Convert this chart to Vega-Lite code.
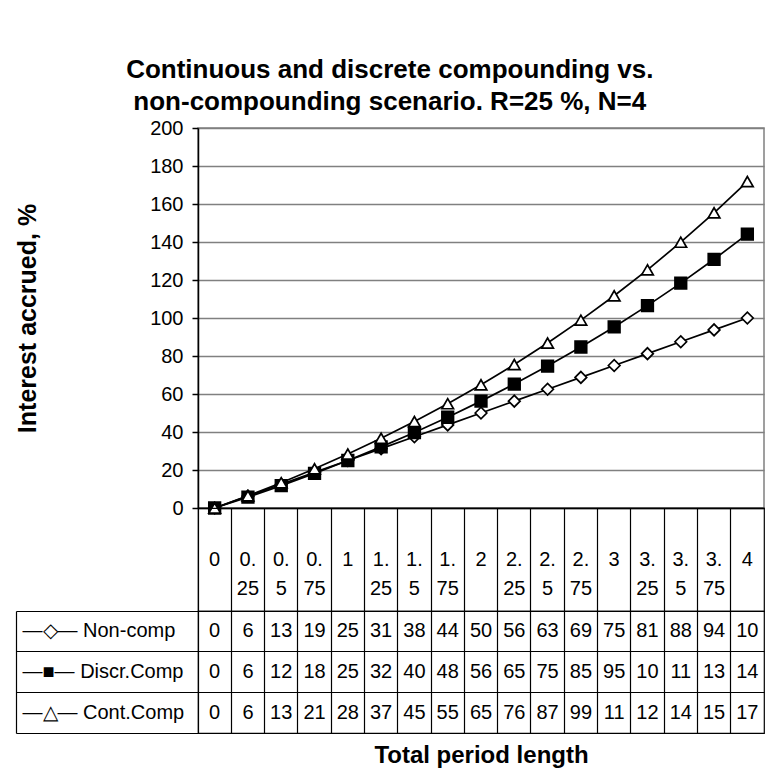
{
  "$schema": "https://vega.github.io/schema/vega-lite/v6.json",
  "background": "white",
  "padding": {"left": 14, "top": 57, "right": 10, "bottom": 6},
  "config": {
    "font": "Liberation Sans",
    "axis": {"labelFont": "Liberation Sans", "titleFont": "Liberation Sans", "labelColor": "black", "titleColor": "black"}
  },
  "title": {
    "text": ["Continuous and discrete compounding vs.", "non-compounding scenario. R=25 %, N=4"],
    "font": "Liberation Sans",
    "fontSize": 26,
    "fontWeight": "bold",
    "color": "black",
    "anchor": "middle",
    "frame": "bounds",
    "lineHeight": 32,
    "offset": 2
  },
  "bounds": "flush",
  "spacing": 0,
  "datasets": {
    "series": [
      {"t": "0", "series": "Non-comp", "value": 0},
      {"t": "0.25", "series": "Non-comp", "value": 6.25},
      {"t": "0.5", "series": "Non-comp", "value": 12.5},
      {"t": "0.75", "series": "Non-comp", "value": 18.75},
      {"t": "1", "series": "Non-comp", "value": 25},
      {"t": "1.25", "series": "Non-comp", "value": 31.25},
      {"t": "1.5", "series": "Non-comp", "value": 37.5},
      {"t": "1.75", "series": "Non-comp", "value": 43.75},
      {"t": "2", "series": "Non-comp", "value": 50},
      {"t": "2.25", "series": "Non-comp", "value": 56.25},
      {"t": "2.5", "series": "Non-comp", "value": 62.5},
      {"t": "2.75", "series": "Non-comp", "value": 68.75},
      {"t": "3", "series": "Non-comp", "value": 75},
      {"t": "3.25", "series": "Non-comp", "value": 81.25},
      {"t": "3.5", "series": "Non-comp", "value": 87.5},
      {"t": "3.75", "series": "Non-comp", "value": 93.75},
      {"t": "4", "series": "Non-comp", "value": 100},
      {"t": "0", "series": "Discr.Comp", "value": 0},
      {"t": "0.25", "series": "Discr.Comp", "value": 5.74},
      {"t": "0.5", "series": "Discr.Comp", "value": 11.8},
      {"t": "0.75", "series": "Discr.Comp", "value": 18.22},
      {"t": "1", "series": "Discr.Comp", "value": 25},
      {"t": "1.25", "series": "Discr.Comp", "value": 32.17},
      {"t": "1.5", "series": "Discr.Comp", "value": 39.75},
      {"t": "1.75", "series": "Discr.Comp", "value": 47.77},
      {"t": "2", "series": "Discr.Comp", "value": 56.25},
      {"t": "2.25", "series": "Discr.Comp", "value": 65.21},
      {"t": "2.5", "series": "Discr.Comp", "value": 74.69},
      {"t": "2.75", "series": "Discr.Comp", "value": 84.72},
      {"t": "3", "series": "Discr.Comp", "value": 95.31},
      {"t": "3.25", "series": "Discr.Comp", "value": 106.52},
      {"t": "3.5", "series": "Discr.Comp", "value": 118.37},
      {"t": "3.75", "series": "Discr.Comp", "value": 130.89},
      {"t": "4", "series": "Discr.Comp", "value": 144.14},
      {"t": "0", "series": "Cont.Comp", "value": 0},
      {"t": "0.25", "series": "Cont.Comp", "value": 6.45},
      {"t": "0.5", "series": "Cont.Comp", "value": 13.31},
      {"t": "0.75", "series": "Cont.Comp", "value": 20.62},
      {"t": "1", "series": "Cont.Comp", "value": 28.4},
      {"t": "1.25", "series": "Cont.Comp", "value": 36.68},
      {"t": "1.5", "series": "Cont.Comp", "value": 45.49},
      {"t": "1.75", "series": "Cont.Comp", "value": 54.88},
      {"t": "2", "series": "Cont.Comp", "value": 64.87},
      {"t": "2.25", "series": "Cont.Comp", "value": 75.51},
      {"t": "2.5", "series": "Cont.Comp", "value": 86.83},
      {"t": "2.75", "series": "Cont.Comp", "value": 98.87},
      {"t": "3", "series": "Cont.Comp", "value": 111.7},
      {"t": "3.25", "series": "Cont.Comp", "value": 125.35},
      {"t": "3.5", "series": "Cont.Comp", "value": 139.89},
      {"t": "3.75", "series": "Cont.Comp", "value": 155.36},
      {"t": "4", "series": "Cont.Comp", "value": 171.83}
    ],
    "periods": [
      {"t": "0", "label": "0"},
      {"t": "0.25", "label": "0.\n25"},
      {"t": "0.5", "label": "0.\n5"},
      {"t": "0.75", "label": "0.\n75"},
      {"t": "1", "label": "1"},
      {"t": "1.25", "label": "1.\n25"},
      {"t": "1.5", "label": "1.\n5"},
      {"t": "1.75", "label": "1.\n75"},
      {"t": "2", "label": "2"},
      {"t": "2.25", "label": "2.\n25"},
      {"t": "2.5", "label": "2.\n5"},
      {"t": "2.75", "label": "2.\n75"},
      {"t": "3", "label": "3"},
      {"t": "3.25", "label": "3.\n25"},
      {"t": "3.5", "label": "3.\n5"},
      {"t": "3.75", "label": "3.\n75"},
      {"t": "4", "label": "4"}
    ]
  },
  "vconcat": [
    {
      "width": 566,
      "height": 380,
      "data": {"name": "series"},
      "view": {"stroke": "#808080", "strokeWidth": 1.5},
      "encoding": {
        "x": {
          "field": "t", "type": "ordinal",
          "scale": {"type": "point", "padding": 0.5},
          "axis": {"labels": false, "ticks": false, "title": null, "grid": false, "domainColor": "black", "domainWidth": 1.5}
        },
        "y": {
          "field": "value", "type": "quantitative",
          "scale": {"domain": [0, 200], "nice": false},
          "axis": {
            "values": [0, 20, 40, 60, 80, 100, 120, 140, 160, 180, 200],
            "title": "Interest accrued, %",
            "titleFontSize": 25, "titleFontWeight": "bold", "titlePadding": 109,
            "labelFontSize": 20, "labelPadding": 9,
            "tickSize": 6, "tickColor": "black", "tickWidth": 1.5,
            "domainColor": "black", "domainWidth": 1.5,
            "grid": true, "gridColor": "#808080", "gridWidth": 1.5
          }
        }
      },
      "layer": [
        {
          "mark": {"type": "line", "color": "black", "strokeWidth": 1.7},
          "encoding": {"detail": {"field": "series", "type": "nominal"}}
        },
        {
          "mark": {"type": "point", "filled": true, "stroke": "black", "strokeWidth": 1.7, "size": 135, "opacity": 1},
          "encoding": {
            "shape": {"field": "series", "type": "nominal", "scale": {"domain": ["Non-comp", "Discr.Comp", "Cont.Comp"], "range": ["diamond", "square", "triangle-up"]}, "legend": null},
            "fill": {"field": "series", "type": "nominal", "scale": {"domain": ["Non-comp", "Discr.Comp", "Cont.Comp"], "range": ["white", "black", "white"]}, "legend": null}
          }
        }
      ]
    },
    {
      "width": 566,
      "height": 103,
      "data": {"name": "periods"},
      "view": {"stroke": "black", "strokeWidth": 1.2},
      "mark": {"type": "text", "fontSize": 20, "lineBreak": "\n", "lineHeight": 29, "baseline": "middle", "align": "center", "color": "black"},
      "encoding": {
        "x": {
          "field": "t", "type": "ordinal",
          "scale": {"type": "band", "paddingInner": 0, "paddingOuter": 0},
          "axis": {"labels": false, "ticks": false, "domain": false, "title": null, "grid": true, "gridColor": "black", "gridWidth": 1.2, "gridOpacity": 1, "bandPosition": 0}
        },
        "text": {"field": "label", "type": "nominal"}
      }
    },
    {
      "width": 566,
      "height": 122,
      "data": {"name": "series"},
      "view": {"stroke": "black", "strokeWidth": 1.2},
      "resolve": {"axis": {"y": "independent"}},
      "layer": [
        {
          "mark": {"type": "text", "fontSize": 20, "baseline": "middle", "align": "center", "color": "black", "limit": 27, "ellipsis": "\u200b"},
          "encoding": {
            "x": {
              "field": "t", "type": "ordinal",
              "scale": {"type": "band", "paddingInner": 0, "paddingOuter": 0},
              "axis": {"orient": "bottom", "labels": false, "ticks": false, "domain": false, "grid": true, "gridColor": "black", "gridWidth": 1.2, "gridOpacity": 1, "bandPosition": 0, "title": "Total period length", "titleFontSize": 24, "titleFontWeight": "bold", "titlePadding": 10}
            },
            "y": {
              "field": "series", "type": "nominal",
              "sort": ["Non-comp", "Discr.Comp", "Cont.Comp"],
              "scale": {"type": "band", "paddingInner": 0, "paddingOuter": 0},
              "axis": {
                "orient": "left", "title": null, "bandPosition": 0,
                "grid": true, "gridColor": "black", "gridWidth": 1.2, "gridOpacity": 1,
                "domain": false,
                "ticks": true, "tickSize": 182, "tickColor": "black", "tickWidth": 1.2,
                "labelAlign": "left", "labelBaseline": "middle", "labelPadding": -6, "labelOffset": 0,
                "labelFontSize": 20,
                "labelExpr": "datum.value == 'Non-comp' ? '—◇— Non-comp' : datum.value == 'Discr.Comp' ? '—■— Discr.Comp' : '—△— Cont.Comp'"
              }
            },
            "text": {"field": "value", "type": "quantitative", "format": ".0f"}
          }
        },
        {
          "mark": {"type": "text", "opacity": 0},
          "encoding": {
            "x": {"field": "t", "type": "ordinal"},
            "y": {
              "field": "series", "type": "nominal",
              "sort": ["Non-comp", "Discr.Comp", "Cont.Comp"],
              "axis": {
                "orient": "left", "title": null, "bandPosition": 1, "offset": 182,
                "grid": false, "labels": false,
                "domain": true, "domainColor": "black", "domainWidth": 1.2,
                "ticks": true, "tickSize": -182, "tickColor": "black", "tickWidth": 1.2
              }
            },
            "text": {"value": ""}
          }
        }
      ]
    }
  ]
}
